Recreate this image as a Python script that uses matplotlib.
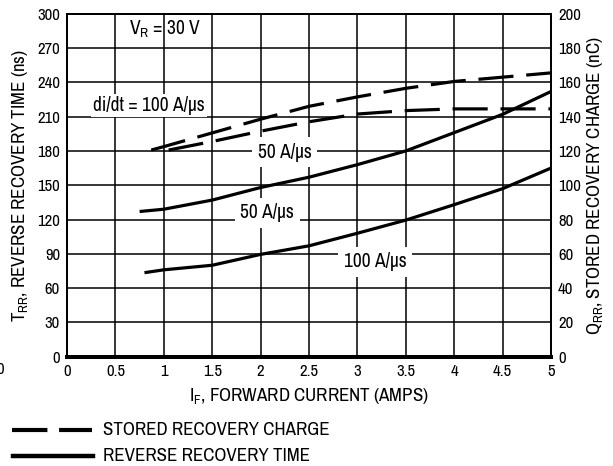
import matplotlib
matplotlib.use("Agg")
import matplotlib.pyplot as plt
from matplotlib import font_manager
from matplotlib.lines import Line2D

# the datasheet uses a narrow Helvetica; take a narrow/condensed face if one is installed
narrow = [f for f in font_manager.fontManager.ttflist
          if ("narrow" in f.name.lower() or "narrow" in f.fname.lower()
              or "condensed" in f.fname.lower())
          and f.style == "normal" and f.weight in (400, "normal", "regular")]
narrow.sort(key=lambda f: (0 if "Liberation" in f.name else 1, f.name))
if narrow:
    font_name = narrow[0].name
    plt.rcParams["font.family"] = [font_name, "DejaVu Sans"]
    plt.rcParams["font.stretch"] = narrow[0].stretch
else:
    font_name = "Liberation Sans"
    plt.rcParams["font.family"] = ["Liberation Sans", "DejaVu Sans"]
plt.rcParams["mathtext.fontset"] = "custom"
plt.rcParams["mathtext.rm"] = font_name
plt.rcParams["mathtext.it"] = font_name

# reverse recovery time (ns), left axis
trr_50_x = [0.75, 1.0, 1.5, 2.0, 2.5, 3.0, 3.5, 4.0, 4.5, 5.0]
trr_50_y = [127, 129, 137, 148, 157, 168, 180, 196, 212, 232]
trr_100_x = [0.8, 1.0, 1.5, 2.0, 2.5, 3.0, 3.5, 4.0, 4.5, 5.0]
trr_100_y = [73.5, 76, 80, 89.5, 97, 108, 119.5, 133, 147, 165]

# stored recovery charge (nC), right axis
qrr_100_x = [0.87, 1.0, 1.5, 2.0, 2.5, 3.0, 3.5, 4.0, 4.5, 5.0]
qrr_100_y = [120.5, 122.5, 130.5, 138.5, 146, 151.5, 156.5, 160.5, 163, 165.5]
qrr_50_x = [1.05, 1.5, 2.0, 2.5, 3.0, 3.5, 4.0, 4.5, 5.0]
qrr_50_y = [120.5, 125.5, 131.5, 137, 141.5, 143.5, 144.5, 144.5, 144.5]

x_ticks = [0, 0.5, 1, 1.5, 2, 2.5, 3, 3.5, 4, 4.5, 5]
x_labels = ["0", "0.5", "1", "1.5", "2", "2.5", "3", "3.5", "4", "4.5", "5"]
left_ticks = list(range(0, 301, 30))
right_ticks = list(range(0, 201, 20))

if narrow:
    FS_TICK, FS_LABEL, FS_NOTE = 12, 13.6, 14
else:
    FS_TICK, FS_LABEL, FS_NOTE = 10, 11, 11.5

fig = plt.figure(figsize=(6.13, 4.66), dpi=100)
ax = fig.add_axes([0.1093, 0.2345, 0.7897, 0.7361])
ax2 = ax.twinx()

ax.set_xlim(0, 5)
ax.set_ylim(0, 300)
ax2.set_ylim(0, 200)
ax.set_xticks(x_ticks)
ax.set_xticklabels(x_labels)
ax.set_yticks(left_ticks)
ax2.set_yticks(right_ticks)
ax.grid(True, color="black", linewidth=1.1)
ax.set_axisbelow(True)
ax.tick_params(length=0, labelsize=FS_TICK, pad=5)
ax2.tick_params(length=0, labelsize=FS_TICK, pad=5)
for a in (ax, ax2):
    for side in ("left", "right", "top"):
        a.spines[side].set_linewidth(1.3)
    a.spines["bottom"].set_linewidth(2.8)

ax.plot(trr_50_x, trr_50_y, color="black", linewidth=2.3, solid_capstyle="butt")
ax.plot(trr_100_x, trr_100_y, color="black", linewidth=2.3, solid_capstyle="butt")
ax2.plot(qrr_100_x, qrr_100_y, color="black", linewidth=2.3, dashes=(11, 4))
ax2.plot(qrr_50_x, qrr_50_y, color="black", linewidth=2.3, dashes=(11, 4))

ax.text(1.01, 286, r"V$_{\mathrm{R}}$ = 30 V", fontsize=FS_NOTE, ha="center", va="center")
ax.text(0.85, 220, "di/dt = 100 A/µs", fontsize=FS_NOTE, ha="center", va="center",
        bbox=dict(facecolor="white", edgecolor="none", pad=1.5))
for x, y, label in [(2.25, 179, "50 A/µs"), (2.07, 126, "50 A/µs"), (3.18, 83, "100 A/µs")]:
    ax.text(x, y, label, fontsize=FS_NOTE, ha="center", va="center",
            bbox=dict(facecolor="white", edgecolor="none", pad=4))

ax.set_xlabel(r"I$_{\mathrm{F}}$, FORWARD CURRENT (AMPS)", fontsize=FS_LABEL, labelpad=5)
ax.set_ylabel(r"T$_{\mathrm{RR}}$, REVERSE RECOVERY TIME (ns)", fontsize=FS_LABEL, labelpad=5)
ax2.set_ylabel(r"Q$_{\mathrm{RR}}$, STORED RECOVERY CHARGE (nC)", fontsize=FS_LABEL, labelpad=3)

# cropped tick label at the left edge, as in the scan
fig.text(0.0, 1 - 370 / 466, "0", fontsize=FS_TICK, ha="center", va="center")

# legend drawn under the chart
y1 = 1 - 430 / 466
y2 = 1 - 456 / 466
fig.add_artist(Line2D([12 / 613, 92 / 613], [y1, y1], color="black", linewidth=3,
                      dashes=(8.5, 2.8)))
fig.add_artist(Line2D([13 / 613, 93 / 613], [y2, y2], color="black", linewidth=3.2))
fig.text(103 / 613, y1, "STORED RECOVERY CHARGE", fontsize=FS_LABEL, va="center")
fig.text(103 / 613, y2, "REVERSE RECOVERY TIME", fontsize=FS_LABEL, va="center")

fig.savefig("out.png", dpi=100)
